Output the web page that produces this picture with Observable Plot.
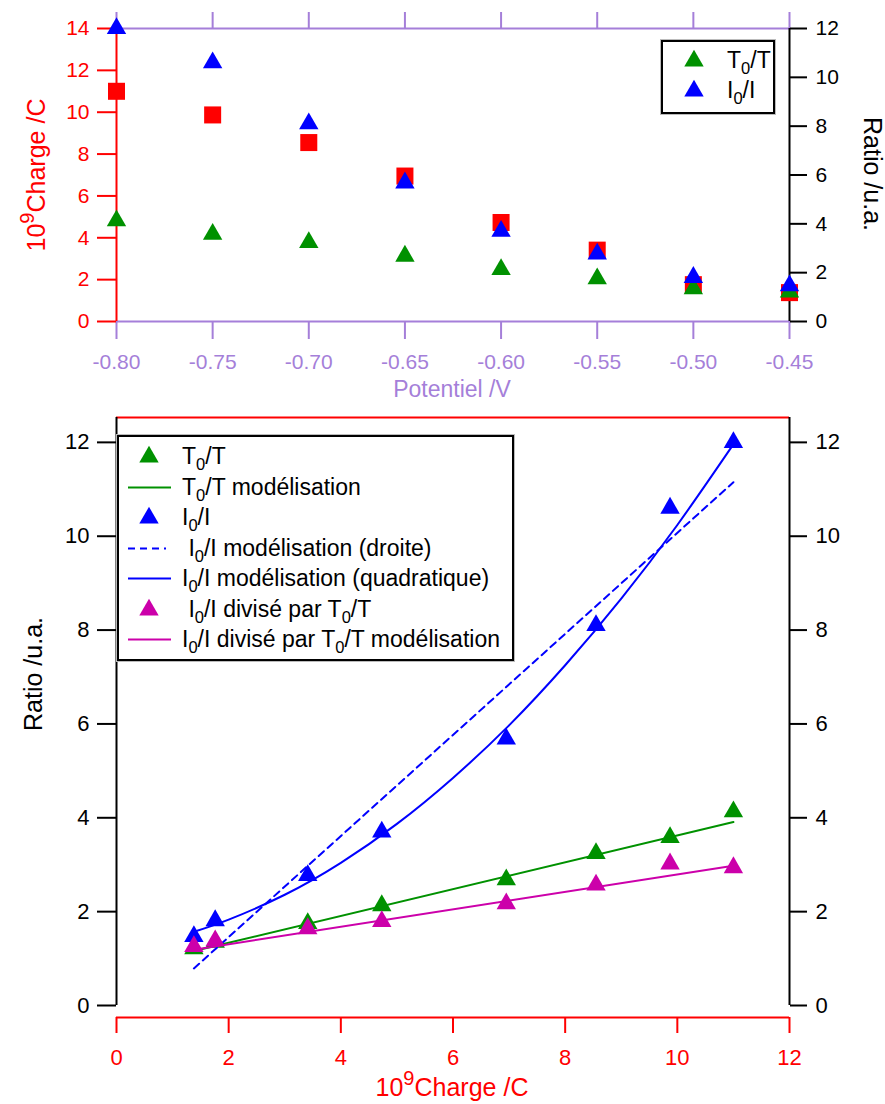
<!DOCTYPE html>
<html>
<head>
<meta charset="utf-8">
<script src="https://cdn.jsdelivr.net/npm/d3@7"></script>
<script src="https://cdn.jsdelivr.net/npm/@observablehq/plot@0.6"></script>
<style>
  body { margin: 0; background: #fff; font-family: "Liberation Sans", Arial, sans-serif; }
  #wrap { position: relative; width: 885px; height: 1104px; overflow: hidden; background: #fff; }
  #wrap > svg { position: absolute; left: 0; }
  .lbl { position: absolute; white-space: nowrap; font-size: 25px; line-height: 1; }
  .lbl sup { font-size: 0.8em; vertical-align: 0.55em; line-height: 0; }
  sub { font-size: 0.72em; vertical-align: -0.38em; line-height: 0; }
  .legend { position: absolute; border: 2px solid #000; box-shadow: 0 0 0 1px #bbb; background: #fff; font-size: 23px; box-sizing: border-box; }
  .row { position: absolute; left: 0; height: 30px; line-height: 30px; white-space: pre; }
  .row svg { position: absolute; top: 0; }
  .row span { position: absolute; top: 0; }
</style>
</head>
<body>
<div id="wrap"></div>
<script>
// ---------- data ----------
const potential   = [-0.80, -0.75, -0.70, -0.65, -0.60, -0.55, -0.50, -0.45];
const charge      = [11.0, 9.87, 8.55, 6.95, 4.73, 3.41, 1.76, 1.38];   // 10^9 Charge /C
const t0t         = [4.13, 3.58, 3.24, 2.68, 2.13, 1.75, 1.35, 1.21];   // T0/T
const i0i         = [12.0, 10.6, 8.1, 5.68, 3.70, 2.77, 1.81, 1.47];    // I0/I
const i0iOverT0t  = [2.94, 3.02, 2.57, 2.17, 1.79, 1.64, 1.38, 1.26];   // I0/I divisé par T0/T

// model curves
const fitLineX      = [1.38, 11.0];
const t0tModel      = [1.16, 3.91];
const divModel      = [1.19, 2.98];
const i0iDroite     = [0.79, 11.15];
const quadX         = [1.38, 2, 3, 4, 5, 6, 7, 8, 9, 10, 11.0];
const i0iQuad       = [1.57, 1.83, 2.36, 3.04, 3.87, 4.85, 5.97, 7.25, 8.67, 10.24, 11.96];

// ticks
const potentialTicks = [-0.80, -0.75, -0.70, -0.65, -0.60, -0.55, -0.50, -0.45];
const chargeTicksTop = [0, 2, 4, 6, 8, 10, 12, 14];
const ratioTicks     = [0, 2, 4, 6, 8, 10, 12];
const chargeTicks    = [0, 2, 4, 6, 8, 10, 12];

// ---------- styles ----------
const PURPLE = "#a57fd9";
const RED = "#ff0000";
const GREEN = "#009100";
const BLUE = "#0000ff";
const MAGENTA = "#cc00aa";
const FONT = '"Liberation Sans", Arial, sans-serif';

const rows = potential.map((p, i) => ({p, charge: charge[i], t0t: t0t[i], i0i: i0i[i], div: i0iOverT0t[i]}));
const k = 14 / 12; // right axis (ratio 0..12) mapped onto left axis (charge 0..14)

const wrap = document.getElementById("wrap");

// ---------- top panel ----------
const topPlot = Plot.plot({
  width: 885, height: 405,
  marginLeft: 116, marginRight: 96, marginTop: 28, marginBottom: 84,
  style: {fontFamily: FONT, fontSize: "21px", background: "transparent", overflow: "visible"},
  x: {domain: [-0.80, -0.45]},
  y: {domain: [0, 14]},
  marks: [
    Plot.ruleY([0, 14], {stroke: PURPLE, strokeWidth: 2}),
    Plot.axisX({anchor: "top", ticks: potentialTicks, tickSize: 17, tickFormat: () => "", stroke: PURPLE, color: PURPLE, strokeWidth: 2, label: null}),
    Plot.axisX({anchor: "bottom", ticks: potentialTicks, tickSize: 18, tickPadding: 15, tickFormat: d => d.toFixed(2),
      stroke: PURPLE, fill: PURPLE, color: PURPLE, strokeWidth: 2, label: null, fontSize: 21}),
    Plot.axisY({anchor: "left", ticks: chargeTicksTop, tickSize: 19, tickPadding: 8, tickFormat: d => String(d),
      stroke: RED, fill: RED, color: RED, strokeWidth: 2, label: null, fontSize: 21}),
    Plot.axisY({anchor: "right", ticks: ratioTicks.map(v => v * k), tickSize: 17, tickPadding: 9,
      tickFormat: d => String(Math.round(d / k)), stroke: "black", fill: "black", strokeWidth: 2, label: null, fontSize: 21}),
    Plot.ruleX([-0.80], {stroke: RED, strokeWidth: 2}),
    Plot.ruleX([-0.45], {stroke: "black", strokeWidth: 2}),
    Plot.dot(rows, {x: "p", y: "charge", symbol: "square", fill: RED, r: 9.6}),
    Plot.dot(rows, {x: "p", y: d => d.t0t * k, symbol: "triangle", fill: GREEN, r: 7.2}),
    Plot.dot(rows, {x: "p", y: d => d.i0i * k, symbol: "triangle", fill: BLUE, r: 7.2})
  ]
});
topPlot.style.top = "0px";
wrap.appendChild(topPlot);

// ---------- bottom panel ----------
const yTop = 12.53;
const line2 = (xs, ys) => xs.map((x, i) => ({x, y: ys[i]}));
const bottomPlot = Plot.plot({
  width: 885, height: 699,
  marginLeft: 116, marginRight: 96, marginTop: 12, marginBottom: 99,
  style: {fontFamily: FONT, fontSize: "21px", background: "transparent", overflow: "visible"},
  x: {domain: [0, 12]},
  y: {domain: [0, yTop]},
  marks: [
    Plot.ruleY([yTop], {stroke: RED, strokeWidth: 2}),
    Plot.ruleX([0, 12], {stroke: "black", strokeWidth: 2}),
    Plot.axisY({anchor: "left", ticks: ratioTicks, tickSize: 19, tickPadding: 8, tickFormat: d => String(d),
      stroke: "black", fill: "black", strokeWidth: 2, label: null, fontSize: 22}),
    Plot.axisY({anchor: "right", ticks: ratioTicks, tickSize: 17, tickPadding: 9, tickFormat: d => String(d),
      stroke: "black", fill: "black", strokeWidth: 2, label: null, fontSize: 22}),
    Plot.ruleY([0], {dy: 12, stroke: RED, strokeWidth: 2}),
    Plot.axisX({anchor: "bottom", ticks: chargeTicks, tickSize: 16, tickPadding: 16, dy: 12, tickFormat: d => String(d),
      stroke: RED, fill: RED, color: RED, strokeWidth: 2, label: null, fontSize: 22}),

    Plot.dot(rows, {x: "charge", y: "t0t", symbol: "triangle", fill: GREEN, r: 7.2}),
    Plot.line(line2(fitLineX, t0tModel), {x: "x", y: "y", stroke: GREEN, strokeWidth: 2}),
    Plot.dot(rows, {x: "charge", y: "i0i", symbol: "triangle", fill: BLUE, r: 7.2}),
    Plot.line(line2(fitLineX, i0iDroite), {x: "x", y: "y", stroke: BLUE, strokeWidth: 2, strokeDasharray: "7,5"}),
    Plot.line(line2(quadX, i0iQuad), {x: "x", y: "y", stroke: BLUE, strokeWidth: 2, curve: "natural"}),
    Plot.dot(rows, {x: "charge", y: "div", symbol: "triangle", fill: MAGENTA, r: 7.2}),
    Plot.line(line2(fitLineX, divModel), {x: "x", y: "y", stroke: MAGENTA, strokeWidth: 2})
  ]
});
bottomPlot.style.top = "405px";
wrap.appendChild(bottomPlot);

// ---------- titles ----------
function addLabel(html, cx, cy, rot, color, size) {
  const d = document.createElement("div");
  d.className = "lbl";
  d.innerHTML = html;
  d.style.left = cx + "px";
  d.style.top = cy + "px";
  d.style.color = color;
  if (size) d.style.fontSize = size + "px";
  d.style.transform = `translate(-50%, -50%) rotate(${rot}deg)`;
  wrap.appendChild(d);
}
addLabel("10<sup>9</sup>Charge /C", 36, 175, -90, RED);
addLabel("Ratio /u.a.", 872, 174, 90, "black");
addLabel("Potentiel /V", 452, 389, 0, PURPLE, 23);
addLabel("Ratio /u.a.", 33, 674, -90, "black");
addLabel("10<sup>9</sup>Charge /C", 452, 1087, 0, RED);

// ---------- legends ----------
const tri = d3.symbol(d3.symbolTriangle, Math.PI * 7.2 * 7.2)();
function legend(left, top, width, height, items, rowTop, rowStep, symX, textX) {
  const box = document.createElement("div");
  box.className = "legend";
  Object.assign(box.style, {left: left + "px", top: top + "px", width: width + "px", height: height + "px"});
  items.forEach((it, i) => {
    const r = document.createElement("div");
    r.className = "row";
    r.style.top = (rowTop + i * rowStep) + "px";
    r.style.width = (width - 4) + "px";
    let sw;
    if (it.type === "tri") {
      sw = `<svg width="60" height="30" style="left:0"><path d="${tri}" transform="translate(${symX},16)" fill="${it.color}"/></svg>`;
    } else {
      sw = `<svg width="60" height="30" style="left:0"><line x1="${symX - 21}" x2="${symX + (it.dash ? 17 : 22)}" y1="15.5" y2="15.5" stroke="${it.color}" stroke-width="2" ${it.dash ? 'stroke-dasharray="7,5"' : ''}/></svg>`;
    }
    r.innerHTML = sw + `<span style="left:${textX}px">${it.html}</span>`;
    box.appendChild(r);
  });
  wrap.appendChild(box);
}
legend(661, 40, 114, 74, [
  {type: "tri", color: GREEN, html: "T<sub>0</sub>/T"},
  {type: "tri", color: BLUE, html: "I<sub>0</sub>/I"}
], 3, 30, 31, 64);

legend(117, 435, 397, 226, [
  {type: "tri", color: GREEN, html: "T<sub>0</sub>/T"},
  {type: "line", color: GREEN, html: "T<sub>0</sub>/T modélisation"},
  {type: "tri", color: BLUE, html: "I<sub>0</sub>/I"},
  {type: "line", color: BLUE, dash: true, html: " I<sub>0</sub>/I modélisation (droite)"},
  {type: "line", color: BLUE, html: "I<sub>0</sub>/I modélisation (quadratique)"},
  {type: "tri", color: MAGENTA, html: " I<sub>0</sub>/I divisé par T<sub>0</sub>/T"},
  {type: "line", color: MAGENTA, html: "I<sub>0</sub>/I divisé par T<sub>0</sub>/T modélisation"}
], 4, 30.5, 30, 63);
</script>
</body>
</html>
